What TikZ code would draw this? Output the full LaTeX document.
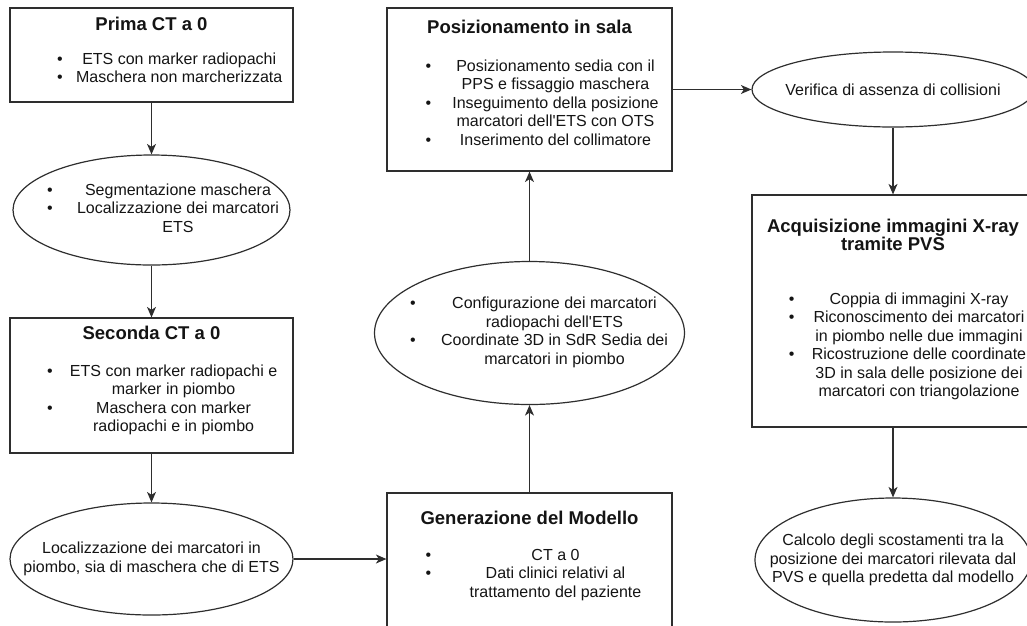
\documentclass[tikz,border=0pt]{standalone}
\usepackage{fontspec}
\setmainfont{Liberation Sans}
\usepackage{array}
\usetikzlibrary{arrows.meta,positioning,shapes.geometric}
\definecolor{inchiostro}{HTML}{141414}
\definecolor{bordo}{HTML}{2E2E2E}
\newcommand{\titolo}{\fontsize{18.5}{18}\selectfont\bfseries}
\newcommand{\corpo}{\fontsize{16}{18.5}\selectfont}
\newcolumntype{C}[1]{>{\centering\arraybackslash}p{#1}}
\setlength{\tabcolsep}{0pt}
\tikzset{
  riquadro/.style={
    rectangle,
    draw=bordo,
    line width=1.2pt,
    inner sep=0pt,
    text=inchiostro,
    font=\corpo
  },
  ovale/.style={
    ellipse,
    draw=bordo,
    line width=1.2pt,
    inner sep=-80pt,
    align=center,
    text=inchiostro,
    font=\corpo
  },
  freccia/.style={
    -{Stealth[length=10.5pt,width=9pt,inset=3pt]},
    line width=1.2pt,
    bordo
  }
}

\begin{document}
\begin{tikzpicture}[x=1pt,y=1pt,on grid,node distance=150pt]
\useasboundingbox (0,0) rectangle (1027,-625);
% colonna sinistra
\node[riquadro] (prima) at (151.5,-55) {\parbox[c][94pt][t]{283pt}{\vspace*{8.7pt}{\centering\titolo Prima CT a 0\par}\vspace{15.5pt}\noindent
  \begin{tabular}[t]{@{\hspace{47.2pt}}p{12pt}C{220pt}@{}}
  \textbullet & ETS con marker radiopachi\\
  \textbullet & Maschera non marcherizzata
  \end{tabular}}};
\node[ovale,minimum width=277pt,minimum height=110pt,below=155pt of prima] (seg) {%
  \begin{tabular}{@{\hspace{34.2pt}}p{20.8pt}C{220pt}@{\hspace{2pt}}}
  \textbullet & Segmentazione maschera\\
  \textbullet & Localizzazione dei marcatori\\
   & ETS
  \end{tabular}};
\node[riquadro,below=175.5pt of seg] (seconda) {\parbox[c][135pt][t]{283pt}{\vspace*{7.9pt}{\centering\titolo Seconda CT a 0\par}\vspace{18.2pt}\noindent
  \begin{tabular}[t]{@{\hspace{37.2pt}}p{16.4pt}C{220pt}@{}}
  \textbullet & ETS con marker radiopachi e\\
   & marker in piombo\\
  \textbullet & Maschera con marker\\
   & radiopachi e in piombo
  \end{tabular}}};
\node[ovale,minimum width=283pt,minimum height=112pt,below=173.5pt of seconda] (loc)
  {Localizzazione dei marcatori in\\piombo, sia di maschera che di ETS};
% colonna centrale
\node[riquadro] (pos) at (529.5,-89.5) {\parbox[c][163pt][t]{285pt}{\vspace*{11.9pt}{\centering\titolo Posizionamento in sala\par}\vspace{19.2pt}\noindent
  \begin{tabular}[t]{@{\hspace{38.5pt}}p{20pt}C{220pt}@{}}
  \textbullet & Posizionamento sedia con il\\
   & PPS e fissaggio maschera\\
  \textbullet & Inseguimento della posizione\\
   & marcatori dell\textquotesingle ETS con OTS\\
  \textbullet & Inserimento del collimatore
  \end{tabular}}};
\node[ovale,minimum width=310pt,minimum height=143pt,below=243.5pt of pos] (conf) {%
  \begin{tabular}{@{\hspace{35.5pt}}p{24.5pt}C{240pt}@{\hspace{10pt}}}
  \textbullet & Configurazione dei marcatori\\
   & radiopachi dell\textquotesingle ETS\\
  \textbullet & Coordinate 3D in SdR Sedia dei\\
   & marcatori in piombo
  \end{tabular}};
\node[riquadro,below=240pt of conf] (gen) {\parbox[c][160pt][t]{285pt}{\vspace*{17.9pt}{\centering\titolo Generazione del Modello\par}\vspace{17.2pt}\noindent
  \begin{tabular}[t]{@{\hspace{38.5pt}}p{20pt}C{220pt}@{}}
  \textbullet & CT a 0\\
  \textbullet & Dati clinici relativi al\\
   & trattamento del paziente
  \end{tabular}}};
% colonna destra
\node[ovale,minimum width=282pt,minimum height=75pt,right=363.5pt of pos] (ver)
  {Verifica di assenza di collisioni};
\node[riquadro,below=221.5pt of ver] (acq) {\parbox[c][232pt][t]{282pt}{\vspace*{24.3pt}{\centering\titolo Acquisizione immagini X-ray\\tramite PVS\par}\vspace{34.8pt}\noindent
  \begin{tabular}[t]{@{\hspace{36.9pt}}p{15.6pt}C{229pt}@{}}
  \textbullet & Coppia di immagini X-ray\\
  \textbullet & Riconoscimento dei marcatori\\
   & in piombo nelle due immagini\\
  \textbullet & Ricostruzione delle coordinate\\
   & 3D in sala delle posizione dei\\
   & marcatori con triangolazione
  \end{tabular}}};
\node[ovale,minimum width=276pt,minimum height=124pt,below=249pt of acq] (calc)
  {Calcolo degli scostamenti tra la\\posizione dei marcatori rilevata dal\\PVS e quella predetta dal modello};
% frecce
\draw[freccia] (prima) -- (seg);
\draw[freccia] (seg) -- (seconda);
\draw[freccia] (seconda) -- (loc);
\draw[freccia] (loc.east) -- (loc.east -| gen.west);
\draw[freccia] (gen) -- (conf);
\draw[freccia] (conf) -- (pos);
\draw[freccia] (pos) -- (ver);
\draw[freccia] (ver) -- (acq);
\draw[freccia] (acq) -- (calc);
\end{tikzpicture}
\end{document}
